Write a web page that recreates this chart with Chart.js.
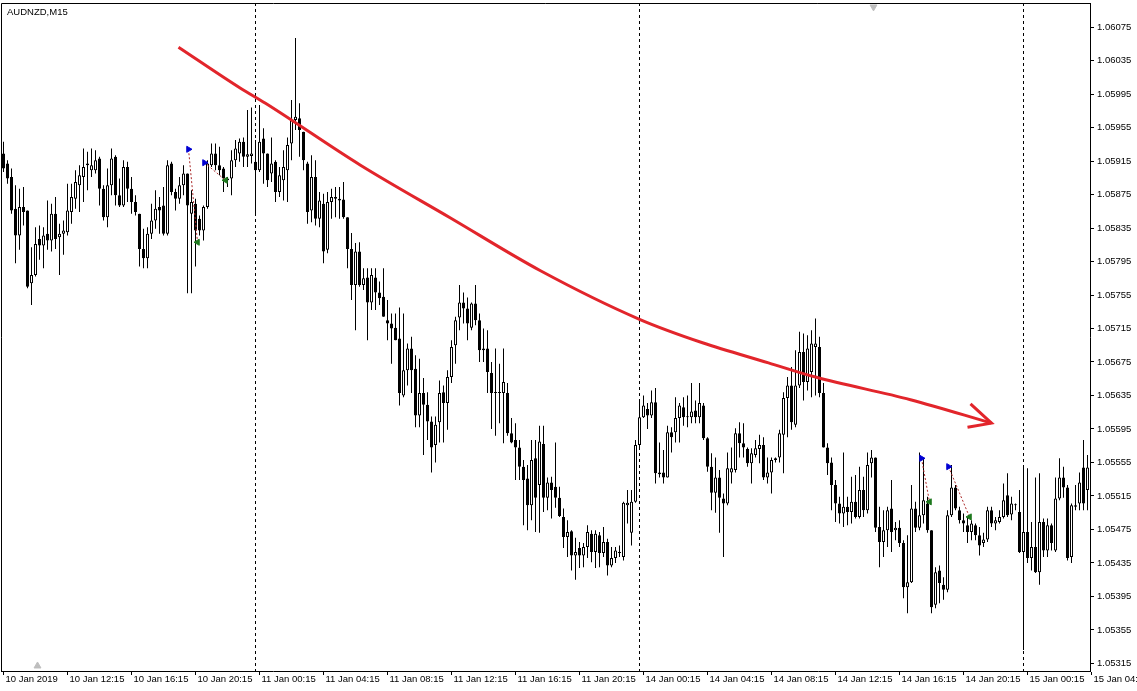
<!DOCTYPE html>
<html>
<head>
<meta charset="utf-8">
<script src="https://cdn.jsdelivr.net/npm/chart.js@4.4.1/dist/chart.umd.min.js"></script>
<style>
html,body{margin:0;padding:0;background:#fff;overflow:hidden}
canvas{display:block}
</style>
</head>
<body>
<canvas id="c" width="1137" height="691"></canvas>
<script>
// ---- Chart title ----
const symbolTitle = 'AUDNZD,M15';

// ---- OHLC data, one entry per 15-minute bar (10 Jan 2019 08:15 onward) ----
const opens = [
1.05924,1.05912,1.05896,1.05858,1.05826,1.05860,1.05856,1.05769,1.05779,1.05822,
1.05814,1.05828,1.05820,1.05852,1.05824,1.05828,1.05830,1.05854,1.05870,1.05886,
1.05896,1.05912,1.05904,1.05904,1.05918,1.05882,1.05848,1.05886,1.05920,1.05874,
1.05862,1.05908,1.05882,1.05866,1.05852,1.05810,1.05799,1.05828,1.05844,1.05860,
1.05862,1.05828,1.05912,1.05878,1.05870,1.05886,1.05900,1.05852,1.05864,1.05846,
1.05832,1.05860,1.05910,1.05924,1.05910,1.05906,1.05892,1.05894,1.05916,1.05924,
1.05938,1.05920,1.05921,1.05914,1.05904,1.05942,1.05924,1.05900,1.05914,1.05878,
1.05892,1.05904,1.05936,1.05964,1.05966,1.05950,1.05912,1.05856,1.05896,1.05846,
1.05864,1.05809,1.05866,1.05870,1.05870,1.05869,1.05848,1.05810,1.05767,1.05807,
1.05767,1.05776,1.05746,1.05776,1.05758,1.05753,1.05725,1.05721,1.05716,1.05703,
1.05635,1.05665,1.05691,1.05667,1.05611,1.05638,1.05624,1.05604,1.05576,1.05603,
1.05639,1.05626,1.05657,1.05695,1.05728,1.05746,1.05739,1.05716,1.05745,1.05725,
1.05691,1.05691,1.05662,1.05638,1.05638,1.05638,1.05638,1.05590,1.05582,1.05573,
1.05550,1.05536,1.05504,1.05560,1.05528,1.05577,1.05513,1.05531,1.05526,1.05513,
1.05490,1.05466,1.05473,1.05444,1.05453,1.05444,1.05454,1.05470,1.05448,1.05468,
1.05447,1.05460,1.05432,1.05441,1.05447,1.05442,1.05504,1.05471,1.05508,1.05576,
1.05609,1.05619,1.05611,1.05627,1.05541,1.05543,1.05537,1.05591,1.05591,1.05608,
1.05621,1.05609,1.05609,1.05617,1.05609,1.05623,1.05584,1.05550,1.05519,1.05537,
1.05512,1.05506,1.05543,1.05546,1.05590,1.05578,1.05571,1.05554,1.05564,1.05571,
1.05576,1.05537,1.05543,1.05560,1.05561,1.05588,1.05632,1.05647,1.05600,1.05647,
1.05687,1.05651,1.05663,1.05693,1.05693,1.05638,1.05573,1.05555,1.05528,1.05506,
1.05494,1.05502,1.05496,1.05508,1.05490,1.05522,1.05498,1.05554,1.05561,1.05478,
1.05460,1.05474,1.05500,1.05474,1.05477,1.05459,1.05406,1.05412,1.05500,1.05477,
1.05492,1.05506,1.05474,1.05385,1.05426,1.05409,1.05403,1.05492,1.05525,1.05498,
1.05486,1.05480,1.05472,1.05480,1.05468,1.05459,1.05463,1.05498,1.05482,1.05484,
1.05490,1.05516,1.05493,1.05504,1.05496,1.05448,1.05472,1.05441,1.05454,1.05424,
1.05484,1.05450,1.05480,1.05450,1.05512,1.05537,1.05525,1.05442,1.05502,1.05506,
1.05549,1.05522
];
const highs = [
1.05938,1.05916,1.05906,1.05886,1.05882,1.05884,1.05856,1.05812,1.05836,1.05838,
1.05836,1.05868,1.05864,1.05872,1.05840,1.05844,1.05888,1.05888,1.05904,1.05910,
1.05930,1.05926,1.05930,1.05928,1.05920,1.05886,1.05906,1.05930,1.05922,1.05894,
1.05916,1.05914,1.05896,1.05874,1.05852,1.05834,1.05836,1.05864,1.05880,1.05872,
1.05884,1.05916,1.05914,1.05882,1.05896,1.05910,1.05900,1.05880,1.05870,1.05850,
1.05862,1.05916,1.05936,1.05936,1.05932,1.05908,1.05896,1.05928,1.05940,1.05942,
1.05943,1.05976,1.05979,1.05940,1.05982,1.05954,1.05924,1.05943,1.05916,1.05908,
1.05928,1.05943,1.05988,1.06062,1.05984,1.05950,1.05914,1.05922,1.05916,1.05878,
1.05876,1.05878,1.05882,1.05884,1.05884,1.05890,1.05848,1.05829,1.05817,1.05818,
1.05787,1.05787,1.05787,1.05787,1.05771,1.05787,1.05749,1.05733,1.05733,1.05740,
1.05733,1.05697,1.05705,1.05683,1.05679,1.05656,1.05639,1.05610,1.05610,1.05653,
1.05647,1.05665,1.05701,1.05729,1.05767,1.05758,1.05752,1.05746,1.05767,1.05733,
1.05715,1.05713,1.05675,1.05691,1.05673,1.05691,1.05650,1.05608,1.05602,1.05582,
1.05558,1.05552,1.05582,1.05582,1.05599,1.05599,1.05537,1.05538,1.05579,1.05526,
1.05500,1.05486,1.05474,1.05465,1.05460,1.05459,1.05480,1.05474,1.05474,1.05472,
1.05478,1.05464,1.05454,1.05454,1.05456,1.05508,1.05522,1.05522,1.05582,1.05629,
1.05635,1.05626,1.05641,1.05644,1.05579,1.05570,1.05599,1.05597,1.05633,1.05626,
1.05633,1.05635,1.05650,1.05629,1.05650,1.05626,1.05585,1.05566,1.05561,1.05546,
1.05518,1.05567,1.05573,1.05596,1.05603,1.05602,1.05573,1.05572,1.05582,1.05588,
1.05585,1.05561,1.05561,1.05561,1.05594,1.05639,1.05657,1.05669,1.05689,1.05711,
1.05709,1.05707,1.05713,1.05727,1.05705,1.05650,1.05578,1.05561,1.05534,1.05514,
1.05567,1.05514,1.05538,1.05540,1.05550,1.05538,1.05567,1.05570,1.05561,1.05502,
1.05498,1.05502,1.05534,1.05484,1.05486,1.05462,1.05468,1.05528,1.05508,1.05567,
1.05560,1.05514,1.05474,1.05430,1.05432,1.05418,1.05498,1.05552,1.05528,1.05502,
1.05494,1.05490,1.05486,1.05482,1.05478,1.05471,1.05502,1.05502,1.05490,1.05498,
1.05530,1.05542,1.05514,1.05506,1.05522,1.05552,1.05548,1.05484,1.05537,1.05542,
1.05488,1.05488,1.05482,1.05537,1.05560,1.05550,1.05528,1.05506,1.05528,1.05543,
1.05582,1.05564
];
const lows = [
1.05902,1.05888,1.05852,1.05793,1.05809,1.05838,1.05763,1.05743,1.05777,1.05797,
1.05787,1.05809,1.05807,1.05810,1.05779,1.05803,1.05826,1.05840,1.05858,1.05854,
1.05866,1.05880,1.05896,1.05900,1.05862,1.05844,1.05836,1.05874,1.05862,1.05860,
1.05860,1.05866,1.05852,1.05850,1.05789,1.05787,1.05787,1.05822,1.05834,1.05828,
1.05826,1.05826,1.05874,1.05856,1.05864,1.05874,1.05757,1.05757,1.05789,1.05826,
1.05820,1.05858,1.05908,1.05904,1.05898,1.05878,1.05884,1.05874,1.05908,1.05914,
1.05908,1.05908,1.05912,1.05852,1.05902,1.05888,1.05884,1.05890,1.05866,1.05872,
1.05868,1.05866,1.05916,1.05952,1.05920,1.05904,1.05840,1.05842,1.05838,1.05836,
1.05793,1.05805,1.05846,1.05848,1.05846,1.05846,1.05787,1.05749,1.05713,1.05765,
1.05761,1.05701,1.05737,1.05737,1.05743,1.05729,1.05701,1.05673,1.05701,1.05623,
1.05633,1.05647,1.05638,1.05597,1.05597,1.05564,1.05582,1.05543,1.05555,1.05579,
1.05579,1.05594,1.05650,1.05673,1.05713,1.05721,1.05701,1.05713,1.05719,1.05675,
1.05675,1.05638,1.05595,1.05587,1.05602,1.05578,1.05587,1.05578,1.05534,1.05534,
1.05480,1.05474,1.05486,1.05472,1.05471,1.05496,1.05498,1.05488,1.05501,1.05490,
1.05453,1.05442,1.05426,1.05415,1.05429,1.05430,1.05441,1.05436,1.05429,1.05430,
1.05442,1.05420,1.05430,1.05435,1.05442,1.05438,1.05482,1.05456,1.05507,1.05570,
1.05608,1.05595,1.05608,1.05530,1.05537,1.05530,1.05537,1.05567,1.05579,1.05579,
1.05599,1.05597,1.05602,1.05602,1.05602,1.05582,1.05544,1.05498,1.05495,1.05471,
1.05442,1.05504,1.05530,1.05543,1.05561,1.05561,1.05550,1.05530,1.05561,1.05554,
1.05534,1.05530,1.05518,1.05555,1.05555,1.05542,1.05585,1.05594,1.05597,1.05644,
1.05629,1.05641,1.05633,1.05635,1.05633,1.05573,1.05540,1.05498,1.05484,1.05482,
1.05478,1.05480,1.05482,1.05488,1.05488,1.05490,1.05494,1.05537,1.05472,1.05430,
1.05442,1.05454,1.05448,1.05462,1.05454,1.05393,1.05375,1.05411,1.05472,1.05474,
1.05482,1.05471,1.05375,1.05381,1.05387,1.05391,1.05400,1.05490,1.05498,1.05482,
1.05472,1.05459,1.05462,1.05462,1.05444,1.05454,1.05460,1.05478,1.05474,1.05482,
1.05488,1.05490,1.05486,1.05498,1.05447,1.05331,1.05435,1.05426,1.05423,1.05409,
1.05442,1.05442,1.05450,1.05448,1.05510,1.05513,1.05438,1.05435,1.05498,1.05498,
1.05498,1.05498
];
const closes = [
1.05906,1.05894,1.05856,1.05826,1.05860,1.05854,1.05765,1.05779,1.05816,1.05814,
1.05826,1.05820,1.05852,1.05822,1.05828,1.05832,1.05856,1.05872,1.05890,1.05898,
1.05908,1.05910,1.05910,1.05916,1.05882,1.05848,1.05886,1.05918,1.05874,1.05862,
1.05908,1.05882,1.05866,1.05854,1.05810,1.05799,1.05828,1.05844,1.05858,1.05856,
1.05828,1.05910,1.05878,1.05870,1.05886,1.05900,1.05862,1.05866,1.05832,1.05832,
1.05860,1.05912,1.05924,1.05910,1.05904,1.05894,1.05894,1.05916,1.05930,1.05938,
1.05920,1.05923,1.05924,1.05904,1.05938,1.05924,1.05892,1.05912,1.05878,1.05898,
1.05908,1.05934,1.05964,1.05968,1.05952,1.05916,1.05854,1.05896,1.05846,1.05868,
1.05807,1.05866,1.05872,1.05872,1.05868,1.05848,1.05810,1.05767,1.05807,1.05767,
1.05775,1.05746,1.05779,1.05758,1.05751,1.05729,1.05721,1.05715,1.05701,1.05638,
1.05665,1.05691,1.05665,1.05611,1.05638,1.05624,1.05604,1.05573,1.05600,1.05638,
1.05626,1.05657,1.05693,1.05725,1.05746,1.05739,1.05721,1.05745,1.05725,1.05689,
1.05689,1.05663,1.05638,1.05639,1.05639,1.05651,1.05590,1.05579,1.05573,1.05550,
1.05534,1.05504,1.05558,1.05513,1.05580,1.05513,1.05531,1.05522,1.05513,1.05491,
1.05466,1.05472,1.05444,1.05448,1.05444,1.05454,1.05472,1.05448,1.05470,1.05447,
1.05460,1.05432,1.05441,1.05450,1.05448,1.05507,1.05507,1.05508,1.05576,1.05609,
1.05623,1.05611,1.05627,1.05542,1.05543,1.05537,1.05591,1.05585,1.05608,1.05623,
1.05609,1.05609,1.05616,1.05609,1.05626,1.05584,1.05550,1.05519,1.05537,1.05513,
1.05506,1.05548,1.05548,1.05590,1.05578,1.05573,1.05554,1.05566,1.05572,1.05576,
1.05537,1.05543,1.05558,1.05558,1.05590,1.05632,1.05647,1.05603,1.05647,1.05687,
1.05651,1.05691,1.05697,1.05697,1.05638,1.05573,1.05554,1.05528,1.05506,1.05494,
1.05502,1.05496,1.05508,1.05490,1.05522,1.05498,1.05552,1.05561,1.05477,1.05460,
1.05474,1.05498,1.05472,1.05477,1.05459,1.05406,1.05412,1.05500,1.05477,1.05492,
1.05510,1.05474,1.05382,1.05424,1.05411,1.05403,1.05492,1.05525,1.05500,1.05486,
1.05482,1.05472,1.05482,1.05468,1.05456,1.05463,1.05498,1.05482,1.05486,1.05490,
1.05510,1.05492,1.05506,1.05504,1.05448,1.05472,1.05441,1.05454,1.05424,1.05484,
1.05450,1.05480,1.05459,1.05512,1.05537,1.05525,1.05441,1.05504,1.05504,1.05531,
1.05506,1.05549
];

// ---- Axis ticks ----
const xTickBars = [0,16,32,48,64,80,96,112,128,144,160,176,192,208,224,240,256,272];
const xTickLabels = ['10 Jan 2019','10 Jan 12:15','10 Jan 16:15','10 Jan 20:15','11 Jan 00:15',
  '11 Jan 04:15','11 Jan 08:15','11 Jan 12:15','11 Jan 16:15','11 Jan 20:15','14 Jan 00:15',
  '14 Jan 04:15','14 Jan 08:15','14 Jan 12:15','14 Jan 16:15','14 Jan 20:15','15 Jan 00:15','15 Jan 04:15'];
const yTickValues = [1.06075,1.06035,1.05995,1.05955,1.05915,1.05875,1.05835,1.05795,1.05755,
  1.05715,1.05675,1.05635,1.05595,1.05555,1.05515,1.05475,1.05435,1.05395,1.05355,1.05315];

// ---- Day separators (bar index of each new day) ----
const daySeparatorBars = [63,159,255];

// ---- Hand-drawn trend arrow (bar index, price) ----
const trendBars   = [43.75,59.25,65.5,89.25,111.75,134.25,159,174.75,191.25,203,226.75,247];
const trendPrices = [1.06051,1.06002,1.05984,1.05910,1.05847,1.05784,1.05726,1.05698,1.05674,1.05657,1.05630,1.05602];
const headBars    = [241.75,247,241];
const headPrices  = [1.05625,1.05602,1.05597];

// ---- Trade markers ----
const entryBars   = [46.25,50.25,229.5,236.25];
const entryPrices = [1.05929,1.05913,1.05560,1.05550];
const exitBars    = [48.5,55.5,231.5,241.5];
const exitPrices  = [1.05818,1.05892,1.05508,1.05490];

// ---- Chart shift / scroll markers ----
const shiftBars   = [8.5,217.5];
const shiftPrices = [1.05312,1.06099];

// ---- View window ----
const X_MIN = -0.625, X_MAX = 271.625;
const Y_MIN = 1.05306, Y_MAX = 1.061037;

const FONT = 'Liberation Sans';
Chart.defaults.font.family = FONT;
Chart.defaults.font.size = 9.5;
Chart.defaults.color = '#000';

const idx = opens.map((_, i) => i);
const wickData = idx.map(i => ({x: i, y: [lows[i], highs[i]]}));
const bodyData = idx.map(i => ({x: i, y: [opens[i], closes[i]]}));
const bodyFill = idx.map(i => closes[i] >= opens[i] ? '#ffffff' : '#000000');
const trendData = trendBars.map((b, i) => ({x: b, y: trendPrices[i]}));
const headData = headBars.map((b, i) => ({x: b, y: headPrices[i]}));
const linkData = [];
entryBars.forEach((b, i) => {
  linkData.push({x: b, y: entryPrices[i]});
  linkData.push({x: exitBars[i], y: exitPrices[i]});
  linkData.push({x: exitBars[i], y: null});
});
const entryData = entryBars.map((b, i) => ({x: b, y: entryPrices[i]}));
const exitData = exitBars.map((b, i) => ({x: b, y: exitPrices[i]}));
const shiftData = shiftBars.map((b, i) => ({x: b, y: shiftPrices[i]}));

const mtDecor = {
  id: 'mtDecor',
  beforeDatasetsDraw(chart) {
    const {ctx, chartArea: a, scales: {x}} = chart;
    ctx.save();
    ctx.strokeStyle = '#000';
    ctx.lineWidth = 1;
    ctx.setLineDash([3, 3]);
    daySeparatorBars.forEach(b => {
      const px = x.getPixelForValue(b);
      ctx.beginPath();
      ctx.moveTo(px, a.top);
      ctx.lineTo(px, a.bottom);
      ctx.stroke();
    });
    ctx.restore();
  },
  afterDraw(chart) {
    const {ctx, chartArea: a} = chart;
    ctx.save();
    ctx.strokeStyle = '#000';
    ctx.lineWidth = 1;
    ctx.beginPath();
    ctx.moveTo(a.left + 0.5, a.bottom);
    ctx.lineTo(a.left + 0.5, a.top + 0.5);
    ctx.lineTo(a.right, a.top + 0.5);
    ctx.stroke();
    ctx.fillStyle = '#000';
    ctx.font = '9.5px ' + FONT;
    ctx.textBaseline = 'alphabetic';
    ctx.fillText(symbolTitle, a.left + 6, a.top + 12);
    ctx.restore();
  }
};

new Chart(document.getElementById('c'), {
  type: 'bar',
  data: {
    datasets: [
      {type: 'line', data: trendData, borderColor: 'rgb(226,37,43)', borderWidth: 3, pointRadius: 0,
       cubicInterpolationMode: 'monotone', fill: false, order: 1},
      {type: 'line', data: headData, borderColor: 'rgb(226,37,43)', borderWidth: 3, pointRadius: 0,
       tension: 0, fill: false, order: 1},
      {type: 'scatter', data: entryData, pointStyle: 'triangle', rotation: 90, pointRadius: 3.5,
       backgroundColor: 'rgb(0,0,210)', borderColor: 'rgb(0,0,210)', borderWidth: 1, order: 0},
      {type: 'scatter', data: exitData, pointStyle: 'triangle', rotation: -90, pointRadius: 3.5,
       backgroundColor: 'rgb(30,120,30)', borderColor: 'rgb(30,120,30)', borderWidth: 1, order: 0},
      {type: 'line', data: linkData, borderColor: 'rgb(170,40,40)', borderWidth: 1, borderDash: [2, 2],
       pointRadius: 0, spanGaps: false, tension: 0, fill: false, order: 2},
      {type: 'scatter', data: shiftData, pointStyle: 'triangle', rotation: [0, 180], pointRadius: 4,
       backgroundColor: 'rgb(190,190,190)', borderColor: 'rgb(190,190,190)', clip: false, order: 0},
      {type: 'bar', data: bodyData, backgroundColor: bodyFill, borderColor: '#000', borderWidth: 1,
       borderSkipped: false, barThickness: 3, grouped: false, minBarLength: 1, inflateAmount: 0, order: 4},
      {type: 'bar', data: wickData, backgroundColor: '#000', borderWidth: 0, barThickness: 1,
       grouped: false, inflateAmount: 0, order: 5}
    ]
  },
  options: {
    responsive: false,
    animation: false,
    devicePixelRatio: 1,
    layout: {autoPadding: false, padding: {left: 1, top: 3, right: 0, bottom: 0}},
    plugins: {legend: {display: false}, tooltip: {enabled: false}, title: {display: false}},
    scales: {
      x: {
        type: 'linear', min: X_MIN, max: X_MAX, offset: false,
        grid: {display: true, drawOnChartArea: false, drawTicks: true, tickLength: 4, color: '#000', offset: false},
        border: {display: true, color: '#000'},
        ticks: {autoSkip: false, maxRotation: 0, minRotation: 0, align: 'start', padding: -1, labelOffset: 2,
                color: '#000', font: {family: FONT, size: 9.5},
                callback: (v) => xTickLabels[xTickBars.indexOf(v)]},
        afterBuildTicks: s => { s.ticks = xTickBars.map(v => ({value: v})); },
        afterFit: s => { s.height = 20; s.paddingLeft = 0; s.paddingRight = 0; }
      },
      y: {
        type: 'linear', position: 'right', min: Y_MIN, max: Y_MAX,
        grid: {display: true, drawOnChartArea: false, drawTicks: true, tickLength: 4, color: '#000'},
        border: {display: true, color: '#000'},
        ticks: {padding: 3, crossAlign: 'near', color: '#000', font: {family: FONT, size: 9.5},
                callback: v => Number(v).toFixed(5)},
        afterBuildTicks: s => { s.ticks = yTickValues.map(v => ({value: v})); },
        afterFit: s => { s.width = 47; s.paddingTop = 0; s.paddingBottom = 0; }
      }
    }
  },
  plugins: [mtDecor]
});
</script>
</body>
</html>
